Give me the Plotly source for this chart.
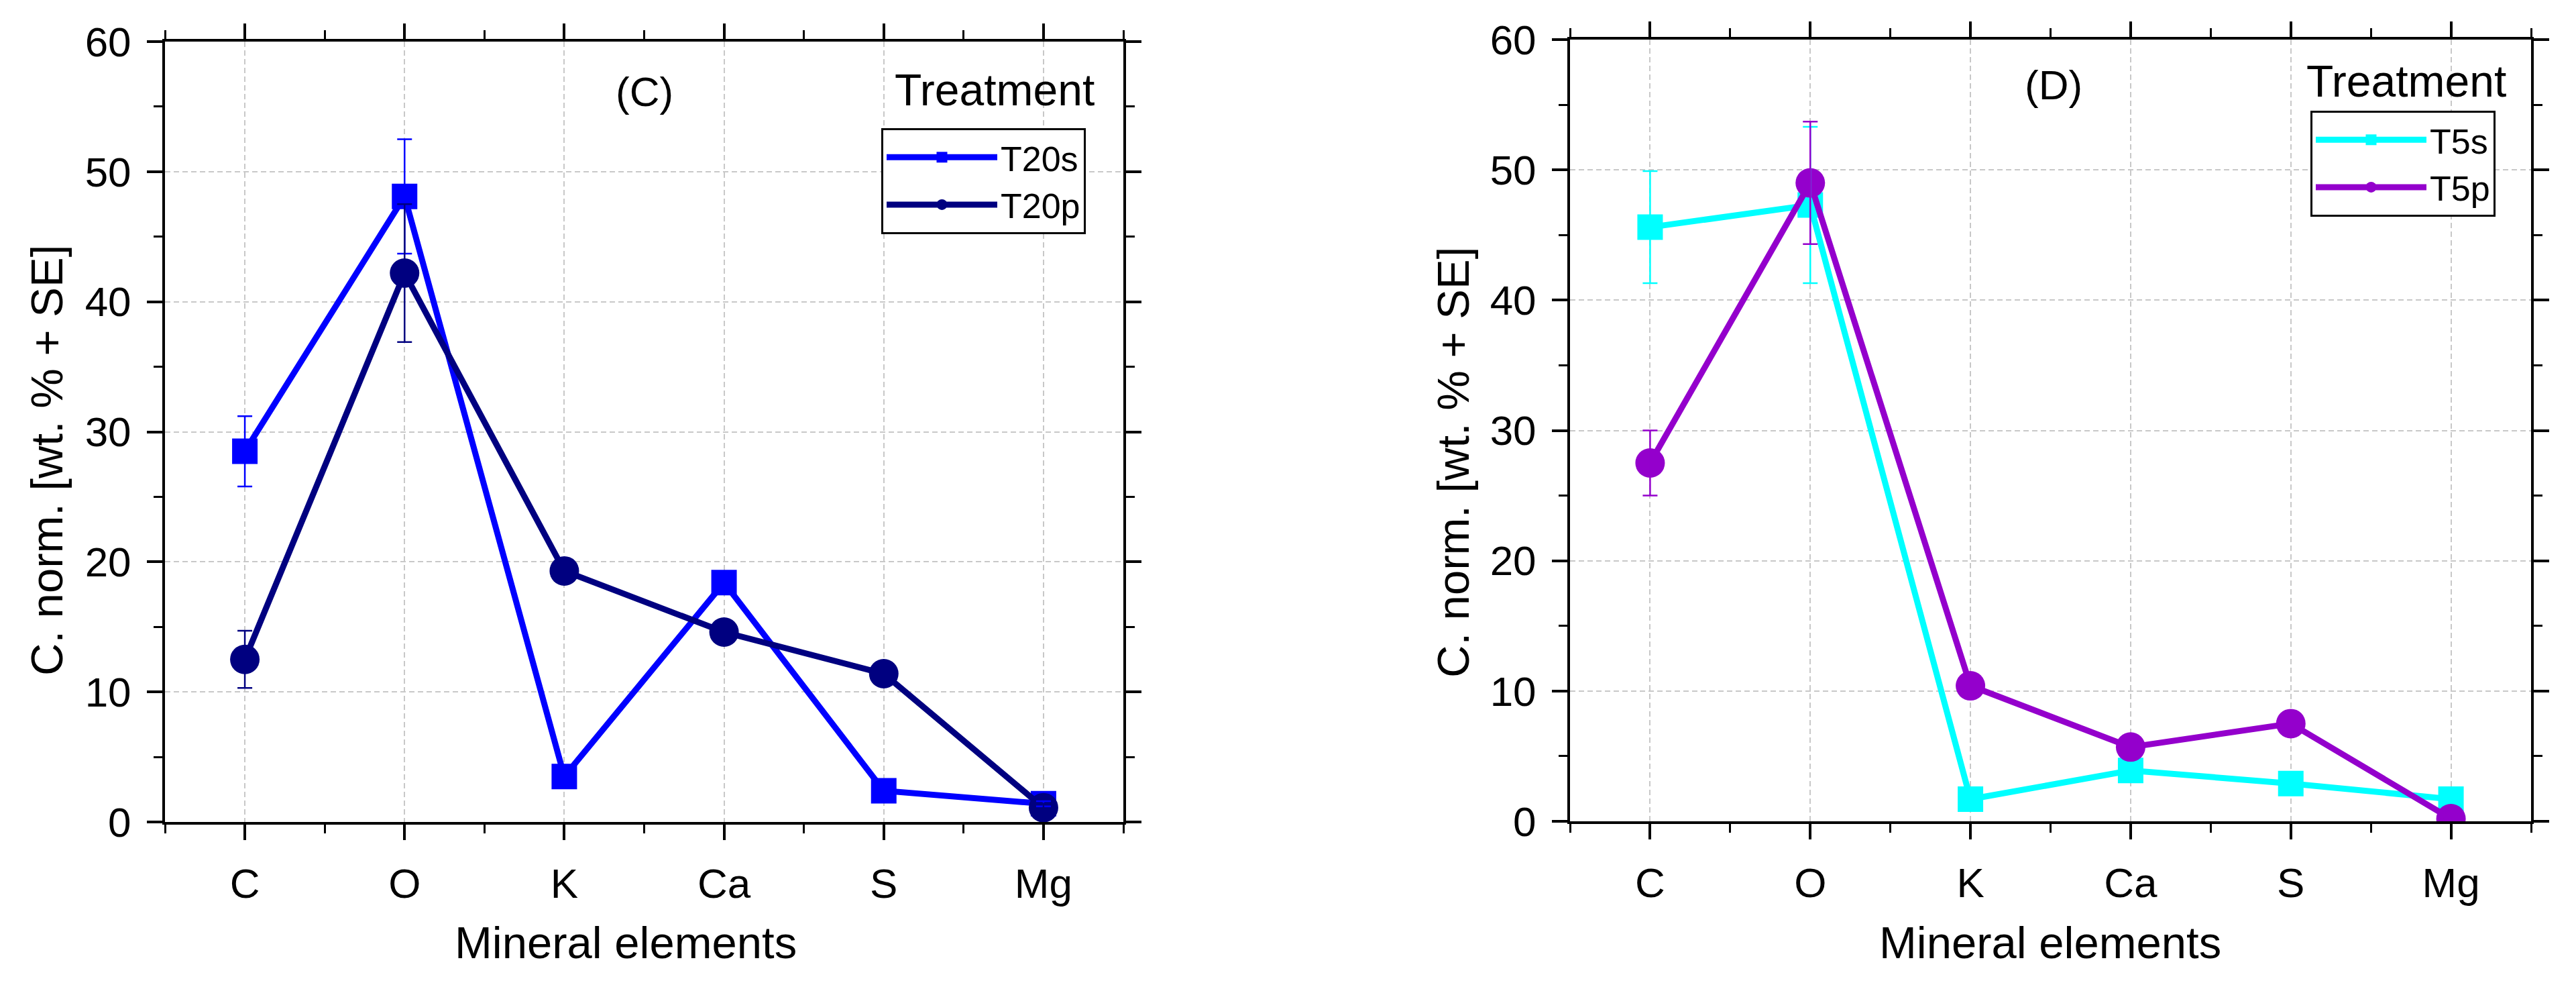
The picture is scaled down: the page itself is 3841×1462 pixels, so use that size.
import plotly.graph_objects as go

# mineral elements on the x axis
elements = ["C", "O", "K", "Ca", "S", "Mg"]
xpos = list(range(len(elements)))

# panel (C): treatment 20
t20s = [28.5, 48.1, 3.5, 18.4, 2.4, 1.4]
t20s_se = [2.7, 4.4, 0.4, 0.5, 0.3, 0.2]
t20p = [12.5, 42.2, 19.3, 14.6, 11.4, 1.1]
t20p_se = [2.2, 5.3, 0.6, 0.5, 0.4, 0.3]

# panel (D): treatment 5
t5s = [45.6, 47.3, 1.7, 3.9, 2.9, 1.7]
t5s_se = [4.3, 6.0, 0.3, 0.4, 0.3, 0.2]
t5p = [27.5, 49.0, 10.4, 5.7, 7.5, 0.2]
t5p_se = [2.5, 4.7, 0.5, 0.4, 0.5, 0.1]

y_ticks = [0, 10, 20, 30, 40, 50, 60]

W, H = 3841, 1462
FONT = "Liberation Sans"


def px_x(p):
    return p / W


def px_y(p):
    return 1 - p / H


fig = go.Figure()

series = [
    # name, values, se, colour, symbol, size, xaxis, yaxis, legend
    ("T20s", t20s, t20s_se, "#0000FF", "square", 38, "x", "y", "legend"),
    ("T20p", t20p, t20p_se, "#000080", "circle", 44, "x", "y", "legend"),
    ("T5s", t5s, t5s_se, "#00FFFF", "square", 38, "x2", "y2", "legend2"),
    ("T5p", t5p, t5p_se, "#9400CC", "circle", 44, "x2", "y2", "legend2"),
]

for name, vals, se, col, sym, size, xa, ya, lg in series:
    fig.add_trace(go.Scatter(
        x=xpos, y=vals, name=name, mode="lines+markers",
        line=dict(color=col, width=9),
        marker=dict(symbol=sym, size=size, color=col),
        xaxis=xa, yaxis=ya, legend=lg,
    ))

# error bars drawn last, on top of the markers (as in Origin)
for name, vals, se, col, sym, size, xa, ya, lg in series:
    fig.add_trace(go.Scatter(
        x=xpos, y=vals, mode="markers", showlegend=False, hoverinfo="skip",
        marker=dict(size=1, color="rgba(0,0,0,0)"),
        error_y=dict(type="data", array=se, color=col, thickness=2.5, width=11),
        xaxis=xa, yaxis=ya,
    ))

axis_common = dict(
    showline=True, linecolor="black", linewidth=4, mirror="ticks",
    ticks="outside", ticklen=23, tickwidth=4, tickcolor="black",
    showgrid=True, gridcolor="#c8c8c8", gridwidth=2, griddash="8px,5px",
    zeroline=False, automargin=False,
    tickfont=dict(family=FONT, size=62, color="black"),
)

xaxis_common = dict(
    axis_common, range=[-0.5, 5.5], tickvals=xpos, ticktext=elements,
    ticklabelstandoff=12,
    minor=dict(ticks="outside", ticklen=13, tickwidth=3, tickcolor="black",
               dtick=1, tick0=0.5, showgrid=False),
)
yaxis_common = dict(
    axis_common, range=[0, 60], tickvals=y_ticks, ticklabelstandoff=11,
    minor=dict(ticks="outside", ticklen=13, tickwidth=3, tickcolor="black",
               dtick=5, tick0=0, showgrid=False),
)

legend_common = dict(
    xanchor="left", yanchor="top",
    bordercolor="black", borderwidth=3, bgcolor="white",
    font=dict(family=FONT, size=52, color="black"),
    itemwidth=165, itemsizing="trace", tracegroupgap=0,
)

fig.update_layout(
    width=W, height=H, autosize=False,
    margin=dict(l=0, r=0, t=0, b=0, pad=0, autoexpand=False),
    paper_bgcolor="white", plot_bgcolor="white",
    font=dict(family=FONT, color="black"),
    xaxis=dict(xaxis_common, domain=[px_x(246), px_x(1675)], anchor="y"),
    yaxis=dict(yaxis_common, domain=[px_y(1225), px_y(62)], anchor="x"),
    xaxis2=dict(xaxis_common, domain=[px_x(2341), px_x(3774)], anchor="y2"),
    yaxis2=dict(yaxis_common, domain=[px_y(1224), px_y(59)], anchor="x2"),
    legend=dict(legend_common, x=px_x(1314), y=px_y(191)),
    legend2=dict(legend_common, x=px_x(3445), y=px_y(165)),
)

labels = [
    # text, x px, y px, size, angle
    ("(C)", 961, 137, 62, 0),
    ("(D)", 3062, 127, 62, 0),
    ("Treatment", 1483, 134, 66, 0),
    ("Treatment", 3588, 121, 66, 0),
    ("Mineral elements", 933, 1404, 67, 0),
    ("Mineral elements", 3057, 1404, 67, 0),
    ("C. norm. [wt. % + SE]", 69, 686, 67, -90),
    ("C. norm. [wt. % + SE]", 2166, 689, 67, -90),
]
for text, x, y, size, ang in labels:
    fig.add_annotation(
        text=text, x=px_x(x), y=px_y(y), xref="paper", yref="paper",
        xanchor="center", yanchor="middle", showarrow=False, textangle=ang,
        font=dict(family=FONT, size=size, color="black"),
    )

fig.write_html("out.html", config={"displayModeBar": False},
               post_script="document.body.style.margin='0px';")
